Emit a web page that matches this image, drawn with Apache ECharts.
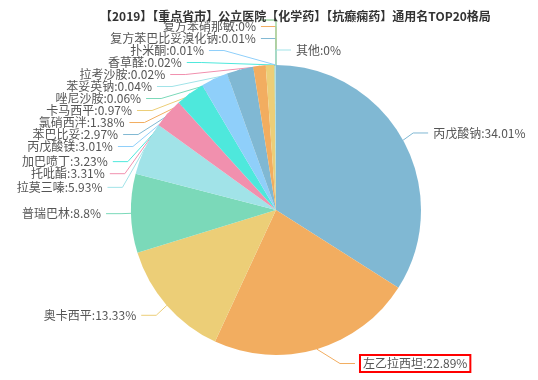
<!DOCTYPE html>
<html>
<head>
<meta charset="utf-8">
<script src="https://cdn.jsdelivr.net/npm/echarts@6/dist/echarts.min.js"></script>
<style>html,body{margin:0;padding:0;background:#fff;}#c{width:538px;height:380px;}</style>
</head>
<body>
<div id="c"></div>
<script>
const titleText = '【2019】【重点省市】公立医院【化学药】【抗癫痫药】通用名TOP20格局';
const names = ['丙戊酸钠','左乙拉西坦','奥卡西平','普瑞巴林','拉莫三嗪','托吡酯','加巴喷丁','丙戊酸镁','苯巴比妥','氯硝西泮','卡马西平','唑尼沙胺','苯妥英钠','拉考沙胺','香草醛','扑米酮','复方苯巴比妥溴化钠','复方苯硝那敏','','','其他'];
const values = [34.01,22.89,13.33,8.8,5.93,3.31,3.23,3.01,2.97,1.38,0.97,0.06,0.04,0.02,0.02,0.01,0.01,0.001,0.001,0.001,0];
const palette = ['#80b8d3','#f2ad60','#ecce77','#7bd9b9','#a1e3e8','#f190ae','#4ee8dc','#8fcffa'];

// pie geometry / label-line settings
const CX = 276, CY = 210, R = 145, LEN = 15, LEN2 = 15, GAP = 5, LH = 12;
const VIEW_TOP = 19, VIEW_BOTTOM = 380;

function computeLabelLayout() {
  const total = values.reduce((a, b) => a + b, 0);
  let cur = -Math.PI / 2;
  const list = [];
  values.forEach((v, i) => {
    const end = cur + v / total * Math.PI * 2;
    const mid = (cur + end) / 2;
    const dx = Math.cos(mid), dy = Math.sin(mid);
    const s = dx < -1e-9 ? -1 : 1;
    const x1 = CX + R * dx, y1 = CY + R * dy;
    const x2 = x1 + dx * LEN, y2 = y1 + dy * LEN;
    const x3 = x2 + s * LEN2;
    list.push({ idx: i, x: x3 + s * GAP, y: y2, height: LH, dir: s,
      linePoints: [[x1, y1], [x2, y2], [x3, y2]], align: s < 0 ? 'right' : 'left' });
    cur = end;
  });
  const left = list.filter(l => l.x < CX), right = list.filter(l => l.x >= CX);
  [[right, 1], [left, -1]].forEach(([side, dir]) => adjustSide(side, dir));
  list.forEach(l => {
    const p = l.linePoints;
    const dist = p[1][0] - p[2][0];
    p[2][0] = l.x < CX ? l.x + GAP : l.x - GAP;
    p[1][0] = p[2][0] + dist;
    p[1][1] = p[2][1] = l.y;
  });
  return list;
}
function adjustSide(list, dir) {
  list.sort((a, b) => a.y - b.y);
  function shiftDown(start, end, delta) {
    for (let j = start; j < end; j++) {
      if (list[j].y + delta > VIEW_BOTTOM) break;
      list[j].y += delta;
      if (j > start && j + 1 < end && list[j + 1].y > list[j].y + list[j].height) {
        shiftUp(j, delta / 2);
        return;
      }
    }
    shiftUp(end - 1, delta / 2);
  }
  function shiftUp(end, delta) {
    for (let j = end; j >= 0; j--) {
      if (list[j].y - delta < VIEW_TOP) break;
      list[j].y -= delta;
      if (j > 0 && list[j].y > list[j - 1].y + list[j - 1].height) break;
    }
  }
  function changeX(sub, isDown) {
    let last = isDown ? Number.MAX_VALUE : 0;
    sub.forEach(l => {
      const dy = Math.abs(l.y - CY);
      let dx = dy < R + LEN ? Math.sqrt((R + LEN + LEN2) * (R + LEN + LEN2) - dy * dy) : Math.abs(l.x - CX);
      if (isDown && dx >= last) dx = last - 10;
      if (!isDown && dx <= last) dx = last + 10;
      l.x = CX + dx * dir;
      last = dx;
    });
  }
  let lastY = 0;
  const n = list.length;
  for (let i = 0; i < n; i++) {
    const delta = list[i].y - lastY;
    if (delta < 0) shiftDown(i, n, -delta);
    lastY = list[i].y + list[i].height;
  }
  if (VIEW_BOTTOM - lastY < 0) shiftUp(n - 1, lastY - VIEW_BOTTOM);
  changeX(list.filter(l => l.y < CY), false);
  changeX(list.filter(l => l.y >= CY), true);
}
const labelPos = computeLabelLayout();
const labelByIdx = {};
labelPos.forEach(l => { labelByIdx[l.idx] = l; });

const chart = echarts.init(document.getElementById('c'));
const data = names.map((n, i) => {
  const d = { name: n, value: values[i] };
  if (n === '左乙拉西坦') d.label = { borderColor: '#ff0000', borderWidth: 2, padding: [3, 3, 2, 3] };
  return d;
});
chart.setOption({
  color: palette,
  title: {
    text: titleText,
    left: 95,
    top: 5,
    textStyle: { fontSize: 12, fontWeight: 'bold', color: '#333', fontFamily: 'Noto Sans CJK SC' }
  },
  series: [{
    type: 'pie',
    center: [CX, CY],
    radius: R,
    startAngle: 90,
    clockwise: true,
    avoidLabelOverlap: false,
    data: data,
    label: {
      formatter: p => p.name ? p.name + ':' + (Math.round(p.value * 100) / 100) + '%' : '',
      fontSize: 12,
      lineHeight: 12,
      color: '#555',
      overflow: 'none',
      fontFamily: 'Noto Sans CJK SC'
    },
    labelLine: { length: LEN, length2: LEN2, lineStyle: { width: 1 } },
    labelLayout: p => {
      const l = labelByIdx[p.dataIndex];
      return { x: l.x, y: l.y, align: l.align, verticalAlign: 'middle', labelLinePoints: l.linePoints };
    },
    itemStyle: { borderWidth: 0 }
  }]
});
</script>
</body>
</html>
